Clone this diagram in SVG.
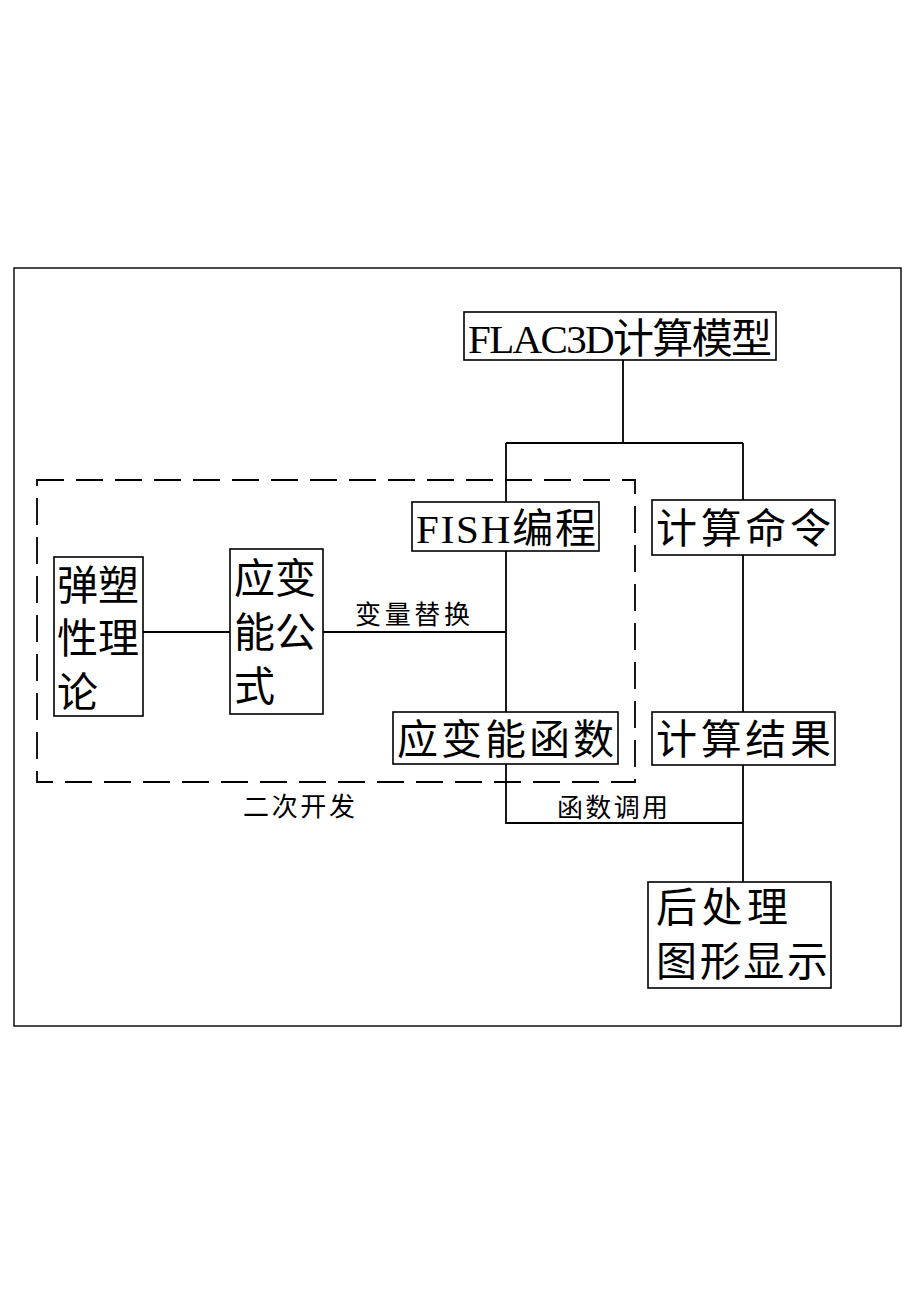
<svg xmlns="http://www.w3.org/2000/svg" width="915" height="1294" viewBox="0 0 915 1294">
<style>
.box{fill:#fff;stroke:#000;stroke-width:1.6}
.ln{fill:none;stroke:#000;stroke-width:1.8}
.big{font-family:"Liberation Serif","Noto Sans CJK SC",serif;font-size:41px;fill:#000}
.sm{font-family:"Liberation Serif","Noto Sans CJK SC",serif;font-size:26px;fill:#000}
</style>
<rect x="0" y="0" width="915" height="1294" fill="#fff"/>
<rect x="14" y="268" width="887" height="758" fill="none" stroke="#000" stroke-width="1.4"/>
<g id="connectors">
<path class="ln" d="M623 360V443M506 443H743M506 443V823H743M743 443V882"/>
<path class="ln" d="M143 632H230M323 632H506"/>
<rect x="37" y="480" width="598" height="302" fill="none" stroke="#000" stroke-width="1.8" stroke-dasharray="27 12"/>
<text class="sm" x="355" y="624" textLength="115">变量替换</text>
<text class="sm" x="557" y="817" textLength="111">函数调用</text>
</g>
<g id="group-label"><text class="sm" x="243" y="816" textLength="112">二次开发</text></g>
<g id="flac3d"><rect class="box" x="464" y="312" width="312" height="48"/><text class="big" x="468" y="353" textLength="304">FLAC3D计算模型</text></g>
<g id="fish"><rect class="box" x="412" y="502" width="187" height="49"/><text class="big" x="416" y="543" textLength="180">FISH编程</text></g>
<g id="cmd"><rect class="box" x="652" y="500" width="183" height="55"/><text class="big" x="656" y="543" textLength="175">计算命令</text></g>
<g id="func"><rect class="box" x="393" y="712" width="225" height="52"/><text class="big" x="397" y="754" textLength="217">应变能函数</text></g>
<g id="result"><rect class="box" x="652" y="712" width="183" height="53"/><text class="big" x="656" y="754" textLength="175">计算结果</text></g>
<g id="post"><rect class="box" x="648" y="882" width="183" height="106"/><text class="big" x="656" y="922" textLength="132">后处理</text><text class="big" x="656" y="976" textLength="172">图形显示</text></g>
<g id="theory"><rect class="box" x="54" y="557" width="89" height="159"/><text class="big" x="57" y="600">弹塑</text><text class="big" x="57" y="653">性理</text><text class="big" x="57" y="707">论</text></g>
<g id="formula"><rect class="box" x="230" y="549" width="93" height="165"/><text class="big" x="234" y="593">应变</text><text class="big" x="234" y="647">能公</text><text class="big" x="234" y="701">式</text></g>
</svg>
